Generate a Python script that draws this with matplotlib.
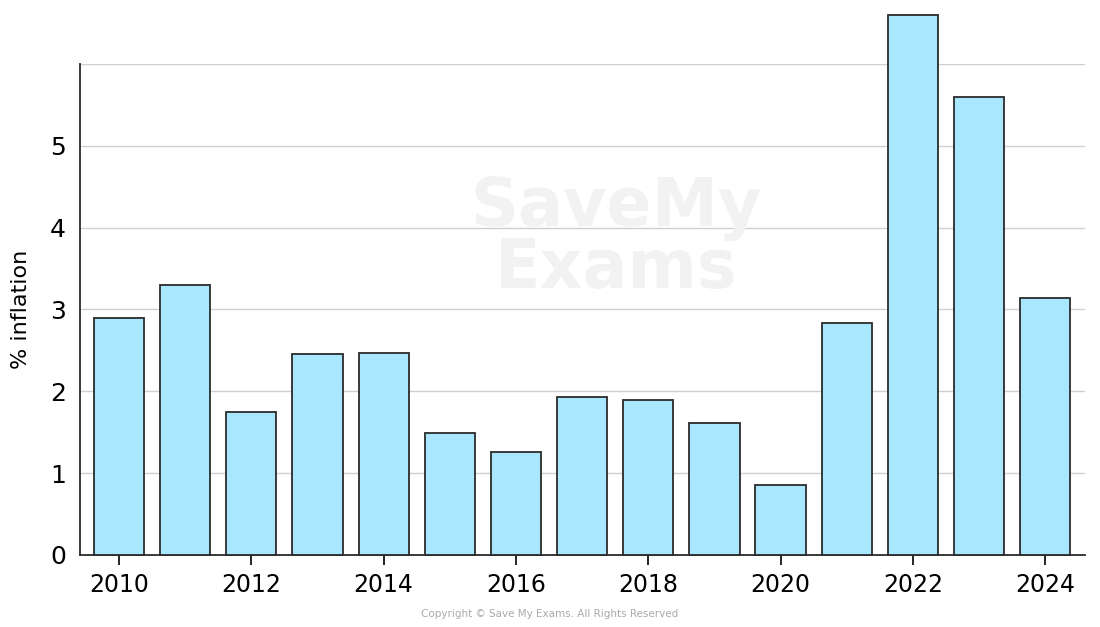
import matplotlib
matplotlib.use("Agg")
import matplotlib.pyplot as plt

# UK inflation per year
years = [2010, 2011, 2012, 2013, 2014, 2015, 2016, 2017, 2018, 2019,
         2020, 2021, 2022, 2023, 2024]
inflation = [2.90, 3.30, 1.75, 2.45, 2.47, 1.49, 1.26, 1.93, 1.89, 1.61,
             0.85, 2.84, 6.60, 5.60, 3.14]
xticks = [2010, 2012, 2014, 2016, 2018, 2020, 2022, 2024]
yticks = [0, 1, 2, 3, 4, 5]

fig = plt.figure(figsize=(11, 6.27), dpi=100)
ax = fig.add_axes([0.0727, 0.115, 0.9136, 0.783])

bars = ax.bar(years, inflation, width=0.76, color="#a8e7fd",
              edgecolor="#2b2b2b", linewidth=1.3, zorder=3)
for b in bars:
    b.set_clip_on(False)

ax.set_xlim(2009.41, 2024.6)
ax.set_ylim(0, 6)
ax.set_xticks(xticks)
ax.set_yticks(yticks)
ax.set_yticks([6], minor=True)
ax.tick_params(axis="y", which="both", length=0, labelsize=18, pad=10)
ax.tick_params(axis="x", length=7, width=1.2, labelsize=17, pad=6)
ax.grid(axis="y", which="both", color="#d0d0d0", linewidth=1, zorder=0)

for s in ["top", "right"]:
    ax.spines[s].set_visible(False)
for s in ["left", "bottom"]:
    ax.spines[s].set_linewidth(1.3)
    ax.spines[s].set_color("#2b2b2b")

ax.set_ylabel("% inflation", fontsize=16, labelpad=14)

# faint watermark
fig.text(0.56, 0.62, "SaveMy\nExams", ha="center", va="center",
         fontsize=48, fontweight="bold", color="#f2f2f2",
         linespacing=0.9, zorder=0)

fig.text(0.5, 0.012, "Copyright © Save My Exams. All Rights Reserved",
         ha="center", va="bottom", fontsize=7.5, color="#aaaaaa")

fig.savefig("out.png", dpi=100)
